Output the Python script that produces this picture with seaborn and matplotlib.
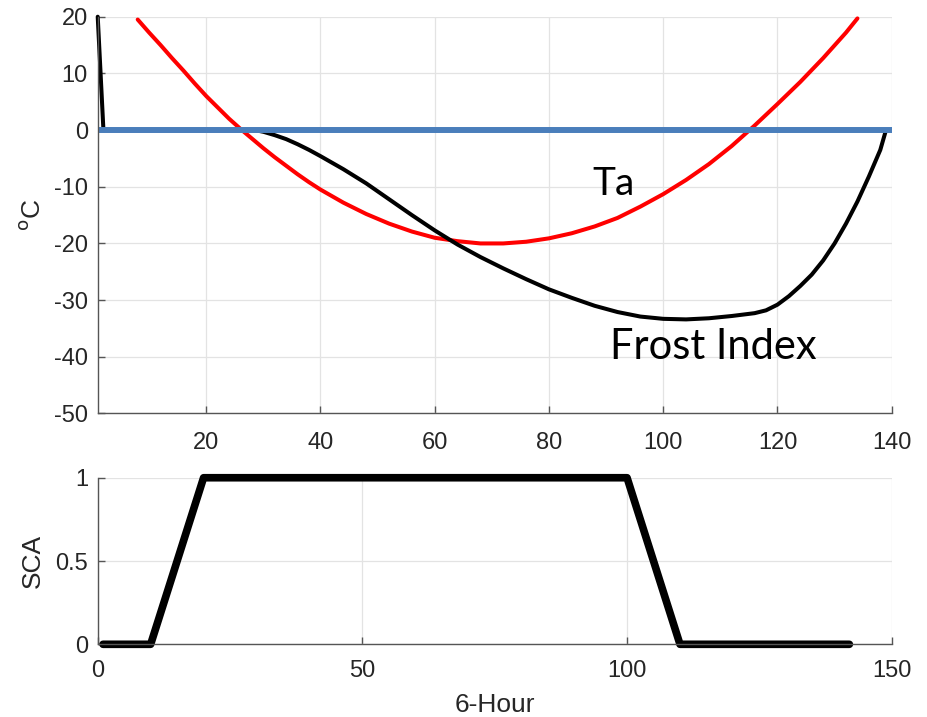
import matplotlib
matplotlib.use("Agg")
import matplotlib.pyplot as plt
import seaborn as sns

# ---- data ----
ta_x = [8, 10, 12, 14, 16, 18, 20, 22, 24, 26, 28, 30, 32, 34, 36, 38, 40, 44,
        48, 52, 56, 60, 64, 68, 72, 76, 80, 84, 88, 92, 96, 100, 104, 108,
        112, 116, 120, 124, 128, 132, 134]
ta_y = [19.5, 17.2, 15, 12.7, 10.5, 8.2, 6, 4, 2, 0.2, -1.5, -3.2, -4.8, -6.3,
        -7.8, -9.2, -10.5, -12.8, -14.8, -16.5, -17.9, -19, -19.6, -20, -20,
        -19.7, -19.1, -18.2, -17, -15.5, -13.5, -11.3, -8.8, -6, -2.8, 0.8,
        4.6, 8.5, 12.7, 17.2, 19.7]

fi_x = [1, 2, 28, 29, 30, 32, 34, 36, 38, 40, 44, 48, 52, 56, 60, 64, 68, 72,
        76, 80, 84, 88, 92, 96, 100, 104, 108, 112, 116, 118, 120, 122, 124,
        126, 128, 130, 132, 134, 136, 138, 139]
fi_y = [20, 0, 0, -0.1, -0.3, -0.9, -1.6, -2.5, -3.5, -4.6, -6.9, -9.4, -12.2,
        -15, -17.7, -20.2, -22.4, -24.4, -26.3, -28.1, -29.6, -31, -32.1, -32.9,
        -33.3, -33.4, -33.2, -32.8, -32.3, -31.8, -30.8, -29.3, -27.5, -25.5,
        -23, -20, -16.5, -12.6, -8.2, -3.5, 0]

zero_x = [1, 140]
zero_y = [0, 0]

sca_x = [1, 10, 20, 100, 110, 142]
sca_y = [0, 0, 1, 1, 0, 0]

top_xticks = [20, 40, 60, 80, 100, 120, 140]
top_yticks = [20, 10, 0, -10, -20, -30, -40, -50]
bot_xticks = [0, 50, 100, 150]
bot_yticks = [0, 0.5, 1]
bot_yticklabels = ['0', '0.5', '1']

sns.set_theme(style="whitegrid")
plt.rcParams['font.family'] = ['Liberation Sans', 'DejaVu Sans']
plt.rcParams['axes.unicode_minus'] = False

fig = plt.figure(figsize=(9.28, 7.17), dpi=100)
ax1 = fig.add_axes([0.1053, 0.4233, 0.8556, 0.5534])
ax2 = fig.add_axes([0.1053, 0.1014, 0.8556, 0.2323])

tick_col = '#262626'
spine_col = '#555555'
grid_col = '#e3e3e3'

for ax in (ax1, ax2):
    ax.set_facecolor('white')
    for s in ('top', 'right'):
        ax.spines[s].set_visible(False)
    for s in ('left', 'bottom'):
        ax.spines[s].set_visible(True)
        ax.spines[s].set_color(spine_col)
        ax.spines[s].set_linewidth(1.0)
    ax.grid(True, color=grid_col, linewidth=0.9)
    ax.tick_params(direction='in', length=5, width=1, color=spine_col,
                   labelcolor=tick_col, labelsize=17, left=True, bottom=True)

# top panel
sns.lineplot(x=ta_x, y=ta_y, ax=ax1, color='#ff0000', linewidth=2.9, sort=False)
sns.lineplot(x=fi_x, y=fi_y, ax=ax1, color='black', linewidth=2.9, sort=False)
sns.lineplot(x=zero_x, y=zero_y, ax=ax1, color='#4A7EBB', linewidth=4.3,
             sort=False, solid_capstyle='butt')
ax1.set_xlim(1, 140)
ax1.set_ylim(-50, 20)
ax1.set_xticks(top_xticks)
ax1.set_yticks(top_yticks)
ax1.tick_params(axis='x', pad=13)
ax1.tick_params(axis='y', pad=7)
ax1.set_ylabel(r'$^{\rm o}$C', fontsize=19, color=tick_col, labelpad=6.5)
ax1.set_xlabel('')

ax1.text(87.6, -11.5, 'Ta', fontsize=28, family='Lato', color='black',
         ha='left', va='baseline')
ax1.text(90.7, -40.3, 'Frost Index', fontsize=30, family='Lato', color='black',
         ha='left', va='baseline')

# bottom panel
sns.lineplot(x=sca_x, y=sca_y, ax=ax2, color='black', linewidth=5.5, sort=False)
ax2.set_xlim(0, 150)
ax2.set_ylim(0, 1)
ax2.set_xticks(bot_xticks)
ax2.set_yticks(bot_yticks)
ax2.set_yticklabels(bot_yticklabels)
ax2.tick_params(axis='x', pad=11)
ax2.tick_params(axis='y', pad=7)
ax2.set_ylabel('SCA', fontsize=19, color=tick_col, labelpad=7.5)
ax2.set_xlabel('6-Hour', fontsize=19, color=tick_col, labelpad=8)
for ax in (ax1, ax2):
    for l in ax.lines:
        l.set_clip_on(False)

fig.savefig('out.png', dpi=100, facecolor='white')
